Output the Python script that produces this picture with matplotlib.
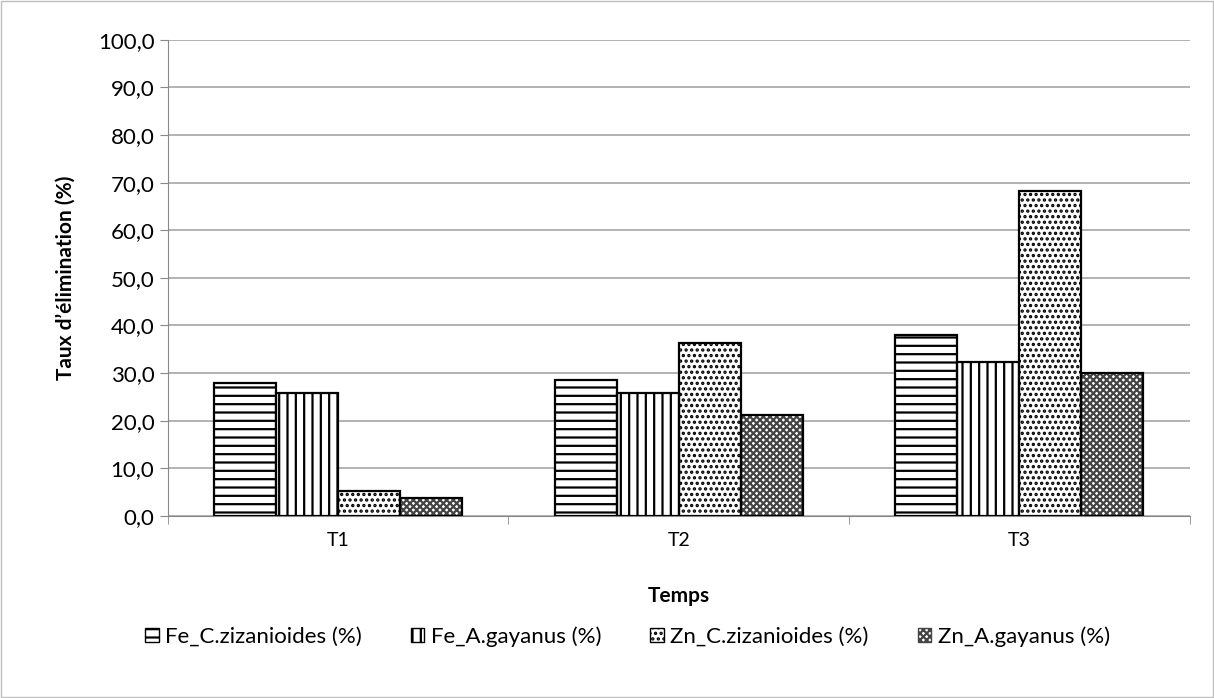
import matplotlib.pyplot as plt
import numpy as np
from matplotlib.patches import Rectangle

categories = ['T1', 'T2', 'T3']
fe_cz = [28.0, 28.6, 37.9]
fe_ag = [25.7, 25.9, 32.4]
zn_cz = [5.3, 36.2, 68.2]
zn_ag = [3.8, 21.1, 29.9]
series_names = ['Fe_C.zizanioides (%)', 'Fe_A.gayanus (%)',
                'Zn_C.zizanioides (%)', 'Zn_A.gayanus (%)']

plt.rcParams['font.family'] = ['Lato', 'DejaVu Sans']
plt.rcParams['hatch.linewidth'] = 1.6

fig = plt.figure(figsize=(12.14, 6.98), dpi=100)
fig.patches.append(Rectangle((0.001, 0.001), 0.998, 0.997, transform=fig.transFigure,
                             fill=False, edgecolor='#bfbfbf', linewidth=1))
ax = fig.add_axes([0.138, 0.261, 0.842, 0.682])

x = np.arange(len(categories))
w = 0.182
hatches = ['--', '||', '...', 'xxxxx']
hcolors = ['black', 'black', 'black', '#444444']
series = [fe_cz, fe_ag, zn_cz, zn_ag]
for i, (vals, name, h, hc) in enumerate(zip(series, series_names, hatches, hcolors)):
    pos = x + (i - 1.5) * w
    # hatch layer, then a black outline on top
    ax.bar(pos, vals, w, facecolor='white', edgecolor=hc, hatch=h,
           linewidth=0, zorder=3)
    ax.bar(pos, vals, w, fill=False, edgecolor='black', linewidth=1.6, zorder=4)
    ax.bar([0], [0], 0, facecolor='white', edgecolor=hc, hatch=h, linewidth=1, label=name)

ax.set_xlim(-0.5, 2.5)
ax.set_ylim(0, 100)
ax.set_yticks(np.arange(0, 101, 10))
ax.set_yticklabels([('%.1f' % v).replace('.', ',') for v in np.arange(0, 101, 10)], fontsize=16)
ax.set_xticks(x)
ax.set_xticklabels(categories, fontsize=14)
ax.set_xticks([-0.5, 0.5, 1.5, 2.5], minor=True)
ax.tick_params(axis='x', which='major', length=0, pad=12)
ax.tick_params(axis='x', which='minor', length=6, color='#888888')
ax.tick_params(axis='y', length=6, color='#888888')
ax.grid(axis='y', color='#a6a6a6', linewidth=1.2, zorder=0)
for s in ['top', 'right']:
    ax.spines[s].set_visible(False)
for s in ['left', 'bottom']:
    ax.spines[s].set_color('#888888')

ax.set_ylabel('Taux d’élimination (%)', fontsize=15, fontweight='bold', labelpad=16)
ax.set_xlabel('Temps', fontsize=15, fontweight='bold', labelpad=26)

ax.legend(loc='upper center', bbox_to_anchor=(0.45, -0.19), ncol=4, frameon=False,
          fontsize=16, handlelength=0.6, handleheight=0.6, handletextpad=0.3, columnspacing=2.2)

fig.savefig('out.png', dpi=100)
